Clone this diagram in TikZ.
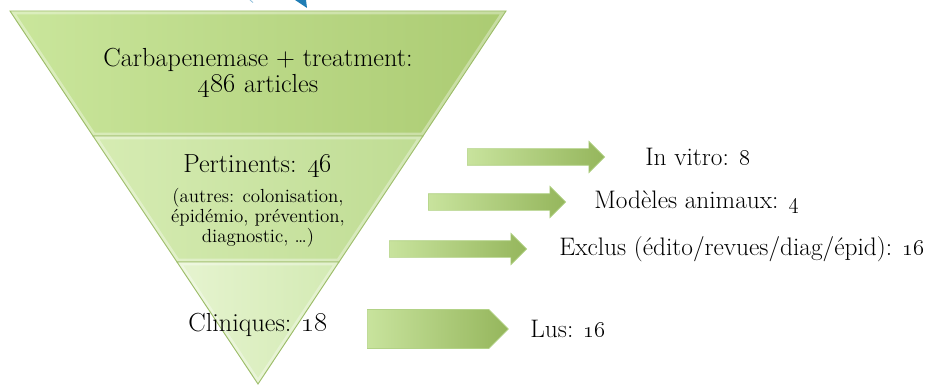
\documentclass[tikz,border=0pt]{standalone}
\usetikzlibrary{positioning,shapes.arrows,shapes.symbols}

\definecolor{bandtopL}{HTML}{CAE69C}
\definecolor{bandtopR}{HTML}{ABCB72}
\definecolor{bandmidL}{HTML}{D6ECB3}
\definecolor{bandmidR}{HTML}{BFDC93}
\definecolor{bandlowL}{HTML}{E6F4D0}
\definecolor{bandlowR}{HTML}{D3EAB3}
\definecolor{bandedge}{HTML}{9DBD69}
\definecolor{arrowL}{HTML}{C8E39D}
\definecolor{arrowR}{HTML}{95B65C}
\definecolor{arrowedge}{HTML}{B2D286}
\definecolor{tipblue}{HTML}{1F7DB5}

% one slice of the funnel: outline, gradient and a soft inner rim
\newcommand{\drawband}[3]{%
  \begin{scope}
    \clip #1 -- cycle;
    \shade[left color=#2, right color=#3] #1 -- cycle;
    \draw[white, opacity=.35, line width=5pt] #1 -- cycle;
  \end{scope}
  \draw[bandedge, line width=.7pt] #1 -- cycle;
}

\tikzset{
  bandtext/.style={align=center, inner sep=0pt, font=\fontsize{19.6}{19.5}\selectfont},
  smalltext/.style={align=center, inner sep=0pt, font=\fontsize{14.2}{15}\selectfont},
  sidetext/.style={inner sep=0pt, font=\fontsize{19}{20}\selectfont},
  blockarrow/.style={single arrow, single arrow head extend=5.6pt, inner xsep=0pt,
    inner ysep=6pt, minimum height=103pt, anchor=tail, draw=arrowedge, line width=.5pt,
    left color=arrowL, right color=arrowR},
  platearrow/.style={signal, signal to=east, signal from=nowhere, inner sep=0pt,
    minimum width=105.75pt, minimum height=29.25pt, anchor=west, draw=arrowedge,
    line width=.5pt, left color=arrowL, right color=arrowR}
}

\begin{document}
\begin{tikzpicture}[x=0.75pt, y=-0.75pt]
    \useasboundingbox (0,0) rectangle (940,385);

    % bit of the shape above, cut off by the page edge
    \fill[tipblue] (295,0) -- (306,0) -- (307,8) -- cycle;
    \draw[tipblue!50, line width=.6pt] (250,0) -- (253,2.5);

    % funnel corners
    \coordinate (tl) at (10,11);
    \coordinate (tr) at (506,11);
    \coordinate (ml) at (93,136);
    \coordinate (mr) at (423,136);
    \coordinate (ll) at (177,262);
    \coordinate (lr) at (339,262);
    \coordinate (apex) at (258,384);

    \drawband{(tl) -- (tr) -- (mr) -- (ml)}{bandtopL}{bandtopR}
    \drawband{(ml) -- (mr) -- (lr) -- (ll)}{bandmidL}{bandmidR}
    \drawband{(ll) -- (lr) -- (apex)}{bandlowL}{bandlowR}

    \node[bandtext] (search) at (258,73.5) {Carbapenemase + treatment:\\\oldstylenums{486} articles};
    \node[bandtext] (relevant) at (258,166) {Pertinents: \oldstylenums{46}};
    \node[smalltext] (others) at (258,218) {(autres: colonisation,\\épidémio, prévention,\\diagnostic, \dots)};
    \node[bandtext] (clinical) at (258,325) {Cliniques: \oldstylenums{18}};

    % exits to the right
    \node[blockarrow] (vitroarrow) at (467,157) {};
    \node[blockarrow] (animalarrow) at (428,202) {};
    \node[blockarrow] (excludedarrow) at (389,249) {};
    \node[platearrow] (readarrow) at (367,329) {};

    \node[sidetext, right=30pt of vitroarrow] (vitro) {In vitro: \oldstylenums{8}};
    \node[sidetext, right=21pt of animalarrow] (animal) {Modèles animaux: \oldstylenums{4}};
    \node[sidetext, right=24pt of excludedarrow] (excluded) {Exclus (édito/revues/diag/épid): \oldstylenums{16}};
    \node[sidetext, right=16pt of readarrow] (read) {Lus: \oldstylenums{16}};
\end{tikzpicture}
\end{document}
